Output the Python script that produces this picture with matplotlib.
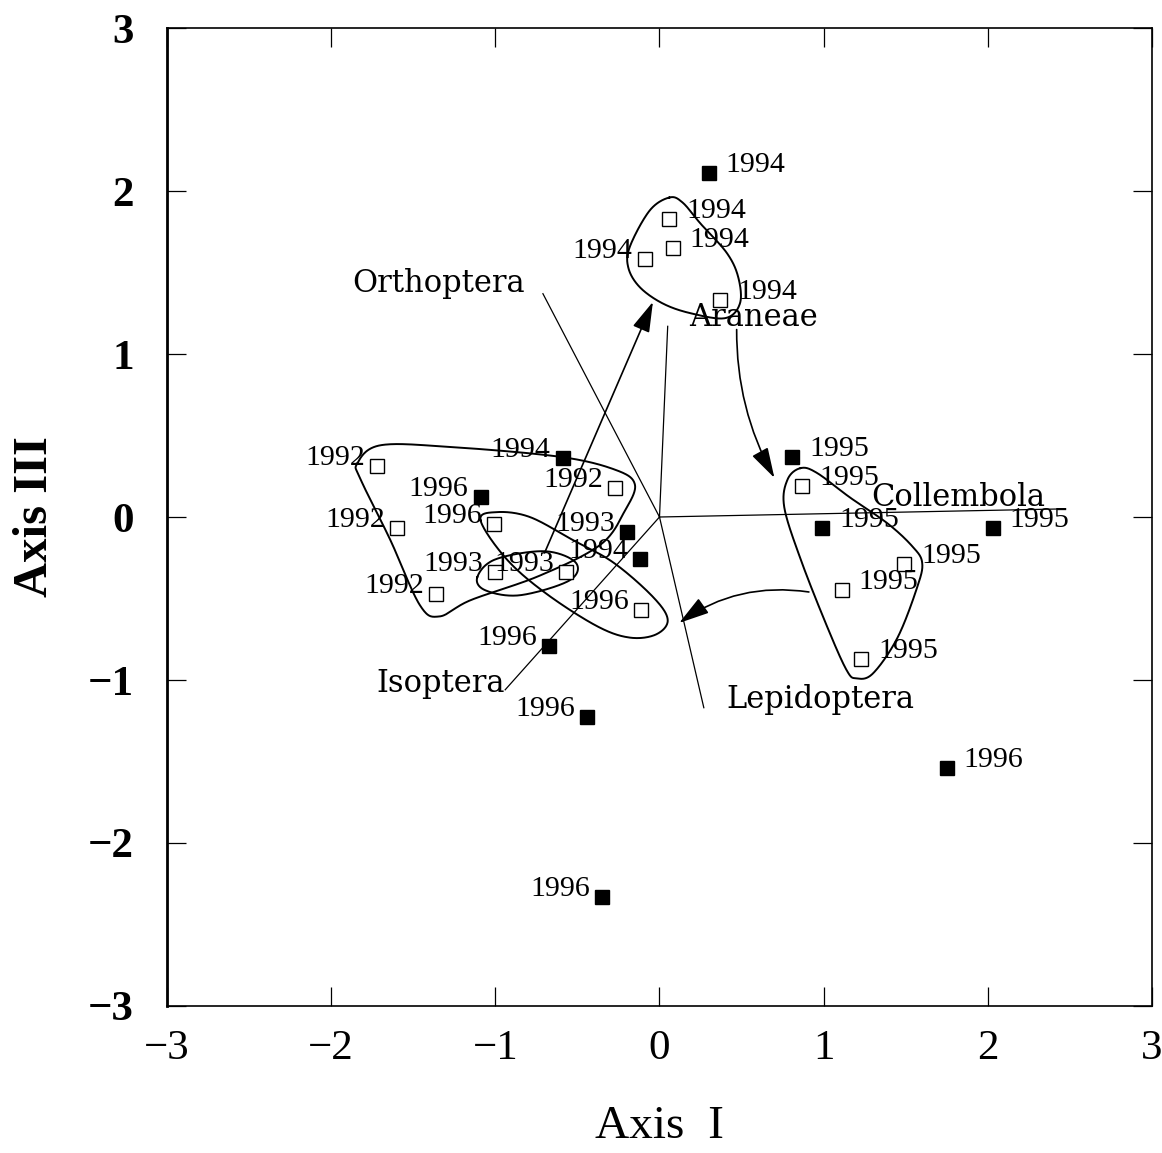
import numpy as np
import matplotlib.pyplot as plt
from matplotlib.patches import FancyArrowPatch

# sample scores on ordination axes I and III (open squares)
open_x = [-1.72, -1.60, -1.36, -0.27, -1.01, -1.00, -0.57, -0.11,
          0.06, 0.08, -0.09, 0.37, 0.87, 1.49, 1.11, 1.23]
open_y = [0.31, -0.07, -0.47, 0.18, -0.04, -0.34, -0.34, -0.57,
          1.83, 1.65, 1.58, 1.33, 0.19, -0.29, -0.45, -0.87]
open_year = ['1992', '1992', '1992', '1992', '1996', '1993', '1993', '1996',
             '1994', '1994', '1994', '1994', '1995', '1995', '1995', '1995']
open_side = ['l', 'l', 'l', 'l', 'l', 'l', 'l', 'l',
             'r', 'r', 'l', 'r', 'r', 'r', 'r', 'r']

# sample scores (filled squares)
fill_x = [0.30, -0.59, -1.09, -0.20, -0.12, -0.67, -0.44, -0.35, 0.81, 0.99, 2.03, 1.75]
fill_y = [2.11, 0.36, 0.12, -0.09, -0.26, -0.79, -1.23, -2.33, 0.37, -0.07, -0.07, -1.54]
fill_year = ['1994', '1994', '1996', '1993', '1994', '1996', '1996', '1996',
             '1995', '1995', '1995', '1996']
fill_side = ['r', 'l', 'l', 'l', 'l', 'l', 'l', 'l', 'r', 'r', 'r', 'r']

# taxon vectors
taxa = ['Orthoptera', 'Araneae', 'Collembola', 'Isoptera', 'Lepidoptera']
vec_x = [-0.71, 0.05, 2.47, -0.94, 0.27]
vec_y = [1.37, 1.17, 0.05, -1.06, -1.17]

# year group outlines
hull_1992 = [(-1.84, 0.33), (-1.70, 0.44), (-1.28, 0.43), (-0.61, 0.37), (-0.27, 0.29),
             (-0.15, 0.20), (-0.21, 0.04), (-0.36, -0.17), (-0.73, -0.36), (-1.15, -0.51),
             (-1.34, -0.61), (-1.46, -0.54), (-1.64, -0.14), (-1.82, 0.23)]
hull_1993 = [(-1.11, -0.37), (-1.00, -0.26), (-0.70, -0.21), (-0.51, -0.28),
             (-0.55, -0.39), (-0.85, -0.48), (-1.06, -0.45)]
hull_1996 = [(-1.09, -0.02), (-0.99, 0.03), (-0.79, 0.00), (-0.53, -0.14), (-0.28, -0.28),
             (-0.04, -0.49), (0.05, -0.63), (-0.02, -0.72), (-0.18, -0.74), (-0.38, -0.67),
             (-0.69, -0.47), (-0.93, -0.26)]
hull_1994 = [(0.06, 1.96), (-0.06, 1.88), (-0.18, 1.66), (-0.19, 1.53), (-0.12, 1.41),
             (0.02, 1.31), (0.19, 1.25), (0.40, 1.22), (0.49, 1.31), (0.48, 1.47),
             (0.41, 1.62), (0.25, 1.80), (0.14, 1.93)]
hull_1995 = [(0.86, 0.30), (0.78, 0.23), (0.76, 0.06), (0.86, -0.26), (1.02, -0.67),
             (1.14, -0.94), (1.20, -0.99), (1.30, -0.96), (1.45, -0.74), (1.57, -0.43),
             (1.60, -0.28), (1.54, -0.18), (1.39, -0.04), (1.16, 0.12), (0.96, 0.27)]

# trajectory arrows between years: start, end, curvature
traj = [((-0.70, -0.22), (-0.04, 1.32), 0.0),
        ((0.47, 1.15), (0.70, 0.24), 0.13),
        ((0.91, -0.46), (0.12, -0.65), 0.2)]


def closed_spline(pts, n=30):
    # Catmull-Rom through the outline vertices, closed
    p = np.array(pts)
    m = len(p)
    out = []
    for i in range(m):
        p0, p1, p2, p3 = p[i - 1], p[i], p[(i + 1) % m], p[(i + 2) % m]
        for t in np.linspace(0, 1, n, endpoint=False):
            t2, t3 = t * t, t * t * t
            out.append(0.5 * ((2 * p1) + (-p0 + p2) * t +
                              (2 * p0 - 5 * p1 + 4 * p2 - p3) * t2 +
                              (-p0 + 3 * p1 - 3 * p2 + p3) * t3))
    out.append(out[0])
    return np.array(out)


serif = ['Liberation Serif', 'DejaVu Serif']
plt.rcParams['font.family'] = serif

fig = plt.figure(figsize=(11.62, 11.53), dpi=100)
ax = fig.add_axes([0.1437, 0.1275, 0.8477, 0.8482])

# taxon vectors from the origin
for name, vx, vy in zip(taxa, vec_x, vec_y):
    ax.plot([0, vx], [0, vy], color='black', lw=0.9, zorder=2)

label_off = {'Orthoptera': (-104, 10), 'Araneae': (86, 9), 'Collembola': (-107, 11),
             'Isoptera': (-65, 6), 'Lepidoptera': (117, 8)}
for name, vx, vy in zip(taxa, vec_x, vec_y):
    ax.annotate(name, (vx, vy), xytext=label_off[name], textcoords='offset pixels',
                ha='center', va='center', fontsize=22, family='DejaVu Serif', zorder=5)

# year outlines
for hull in [hull_1992, hull_1993, hull_1996, hull_1994, hull_1995]:
    c = closed_spline(hull)
    ax.plot(c[:, 0], c[:, 1], color='black', lw=1.4, zorder=3)

# trajectory arrows
for (x0, y0), (x1, y1), rad in traj:
    arr = FancyArrowPatch((x0, y0), (x1, y1), connectionstyle='arc3,rad=%s' % rad,
                          arrowstyle='-|>,head_length=0.75,head_width=0.22',
                          mutation_scale=25, color='black', lw=1.2,
                          shrinkA=0, shrinkB=0, zorder=4)
    ax.add_patch(arr)

# samples
ax.plot(open_x, open_y, 's', ms=10, mfc='white', mec='black', mew=1.0, ls='none', zorder=6)
ax.plot(fill_x, fill_y, 's', ms=10, mfc='black', mec='black', ls='none', zorder=6)

for xs, ys, labs, sides in [(open_x, open_y, open_year, open_side),
                            (fill_x, fill_y, fill_year, fill_side)]:
    for x, y, lab, s in zip(xs, ys, labs, sides):
        if s == 'l':
            ax.annotate(lab, (x, y), xytext=(-12, 8), textcoords='offset pixels',
                        ha='right', va='center', fontsize=21.5, zorder=7)
        else:
            ax.annotate(lab, (x, y), xytext=(17, 8), textcoords='offset pixels',
                        ha='left', va='center', fontsize=21.5, zorder=7)

ax.set_xlim(-3, 3)
ax.set_ylim(-3, 3)
ticks = [-3, -2, -1, 0, 1, 2, 3]
ax.set_xticks(ticks)
ax.set_yticks(ticks)
ax.set_xticklabels(['\u22123', '\u22122', '\u22121', '0', '1', '2', '3'], fontsize=31)
ax.set_yticklabels(['\u22123', '\u22122', '\u22121', '0', '1', '2', '3'],
                   fontsize=31, fontweight='bold')
ax.tick_params(direction='in', length=14, width=0.9, top=True, right=True)
ax.tick_params(axis='x', pad=17)
ax.tick_params(axis='y', pad=24)
for sp in ax.spines.values():
    sp.set_linewidth(1.2)
ax.spines['left'].set_linewidth(2.0)

ax.set_xlabel('Axis  I', fontsize=34, labelpad=27)
ax.set_ylabel('Axis III', fontsize=35, fontweight='bold', labelpad=22)

fig.savefig('out.png', dpi=100)
